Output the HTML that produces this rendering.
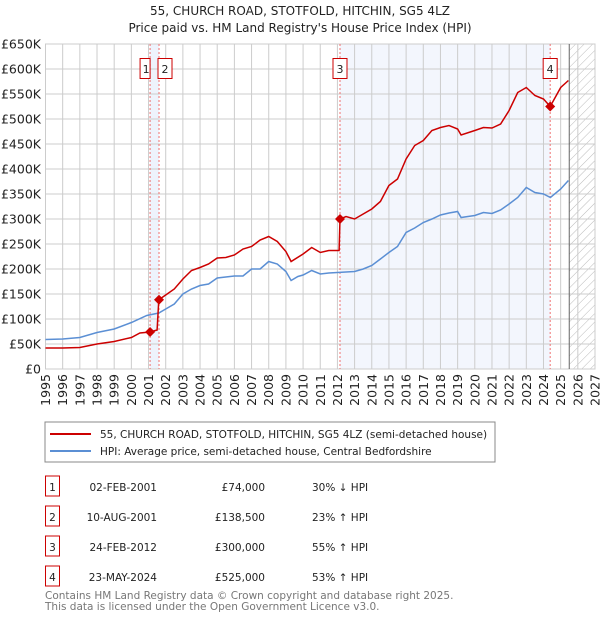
<!DOCTYPE html>
<html><head><meta charset="utf-8"><style>
body{margin:0;background:#fff;font-family:"DejaVu Sans","Liberation Sans",sans-serif;}
svg text{font-family:"DejaVu Sans","Liberation Sans",sans-serif;}
</style></head><body>
<svg id="c" width="600" height="620" viewBox="0 0 600 620" xmlns="http://www.w3.org/2000/svg">
<defs><pattern id="hatch" width="6" height="6" patternUnits="userSpaceOnUse" patternTransform="rotate(45)"><line x1="0" y1="0" x2="0" y2="6" stroke="#bbb" stroke-width="1"/></pattern></defs>
<text x="300" y="15" text-anchor="middle" font-size="12" fill="#222">55, CHURCH ROAD, STOTFOLD, HITCHIN, SG5 4LZ</text>
<text x="300" y="32" text-anchor="middle" font-size="12" fill="#222">Price paid vs. HM Land Registry's House Price Index (HPI)</text>
<g id="plot"></g>
<rect x="45" y="422" width="450" height="40" fill="#fff" stroke="#888"/>
<line x1="50" y1="434" x2="91" y2="434" stroke="#cc0000" stroke-width="2"/>
<text x="100" y="438" font-size="10.5" fill="#222">55, CHURCH ROAD, STOTFOLD, HITCHIN, SG5 4LZ (semi-detached house)</text>
<line x1="50" y1="451" x2="91" y2="451" stroke="#5b8fd4" stroke-width="2"/>
<text x="100" y="455" font-size="10.5" fill="#222">HPI: Average price, semi-detached house, Central Bedfordshire</text>
<g id="table" font-size="10.5" fill="#222"></g>
<text x="45" y="599" font-size="10.5" fill="#777">Contains HM Land Registry data © Crown copyright and database right 2025.</text>
<text x="45" y="610" font-size="10.5" fill="#777">This data is licensed under the Open Government Licence v3.0.</text>
</svg>
<script>
const hpiYears=[1995,1996,1997,1998,1999,2000,2000.9,2001.6,2002,2002.5,2003,2003.5,2004,2004.5,2005,2006,2006.5,2007,2007.5,2008,2008.5,2009,2009.3,2009.7,2010,2010.5,2011,2011.5,2012,2013,2013.5,2014,2014.5,2015,2015.5,2016,2016.5,2017,2017.5,2018,2018.5,2019,2019.2,2019.6,2020,2020.5,2021,2021.5,2022,2022.5,2023,2023.5,2024,2024.4,2025,2025.45];
const hpiValues=[59,60,63,73,80,93,107,112,120,130,150,160,167,170,182,186,186,200,200,215,210,195,177,185,188,197,190,192,193,195,200,207,220,233,245,273,282,293,300,308,312,315,303,305,307,313,311,318,330,343,363,353,350,343,360,377];
const propYears=[1995,1996,1997,1998,1999,2000,2000.5,2001.09,2001.5,2001.6,2002,2002.5,2003,2003.5,2004,2004.5,2005,2005.5,2006,2006.5,2007,2007.5,2008,2008.5,2009,2009.3,2010,2010.5,2011,2011.5,2012.1,2012.15,2012.5,2013,2013.5,2014,2014.5,2015,2015.5,2016,2016.5,2017,2017.5,2018,2018.5,2019,2019.2,2020,2020.5,2021,2021.5,2022,2022.5,2023,2023.5,2024,2024.39,2025,2025.45];
const propValues=[42,42,43,50,55,63,72,74,78,138.5,148,160,180,197,203,210,222,223,228,240,245,258,265,255,235,215,230,243,233,237,237,300,305,300,310,320,335,367,380,420,447,457,477,483,487,480,468,477,483,482,490,517,553,563,547,540,525,563,577];
const saleLabels=["1","2","3","4"];
const saleYears=[2001.09,2001.61,2012.15,2024.39];
const saleValues=[74,138.5,300,525];
const saleDates=["02-FEB-2001","10-AUG-2001","24-FEB-2012","23-MAY-2024"];
const salePrices=["£74,000","£138,500","£300,000","£525,000"];
const saleHpi=["30% ↓ HPI","23% ↑ HPI","55% ↑ HPI","53% ↑ HPI"];
const yTicks=[0,50,100,150,200,250,300,350,400,450,500,550,600,650];
const yTickLabels=["£0","£50K","£100K","£150K","£200K","£250K","£300K","£350K","£400K","£450K","£500K","£550K","£600K","£650K"];
const xTicks=[1995,1996,1997,1998,1999,2000,2001,2002,2003,2004,2005,2006,2007,2008,2009,2010,2011,2012,2013,2014,2015,2016,2017,2018,2019,2020,2021,2022,2023,2024,2025,2026,2027];
const dataEnd=2025.5;

const NS="http://www.w3.org/2000/svg";
const L=45.5,R=595,T=44,B=369;
const X=y=>L+(y-1995)*(R-L)/32;
const Y=v=>B-v*(B-T)/650;
const g=document.getElementById('plot');
function mk(tag,attrs,parent){const e=document.createElementNS(NS,tag);for(const k in attrs)e.setAttribute(k,attrs[k]);(parent||g).appendChild(e);return e;}
let e;
e=mk('rect',{x:X(saleYears[0]),y:T,width:X(saleYears[1])-X(saleYears[0]),height:B-T,fill:'#eef3fc'});


e=mk('rect',{x:X(saleYears[2]),y:T,width:X(saleYears[3])-X(saleYears[2]),height:B-T,fill:'#f3f6fd'});


e=mk('rect',{x:X(dataEnd),y:T,width:R-X(dataEnd),height:B-T,fill:'url(#hatch)'});


yTicks.forEach((v,i)=>{
 e=mk('line',{x1:L,x2:R,y1:Y(v),y2:Y(v),stroke:'#ccc','stroke-width':1});
 
 
 e=mk('text',{x:41,y:Y(v)+4.5,'text-anchor':'end','font-size':12.5,fill:'#222'});
 e.textContent=yTickLabels[i];
 
 
});
xTicks.forEach(yr=>{
 e=mk('line',{x1:X(yr),x2:X(yr),y1:T,y2:B,stroke:'#ccc','stroke-width':1});
 
 
 e=mk('text',{x:0,y:0,'text-anchor':'end','font-size':12.5,fill:'#222',transform:`translate(${X(yr)+4.5},${B+5}) rotate(-90)`});
 e.textContent=yr;
 
 
});
e=mk('rect',{x:L,y:T,width:R-L,height:B-T,fill:'none',stroke:'#ccc'});


e=mk('line',{x1:X(dataEnd),x2:X(dataEnd),y1:T,y2:B,stroke:'#666'});


saleYears.forEach((yr,i)=>{
 e=mk('line',{x1:X(yr),x2:X(yr),y1:T,y2:B,stroke:'#f07070','stroke-dasharray':'2,2'});
 
 
});
const pts=(xs,vs)=>xs.map((x,i)=>X(x).toFixed(1)+','+Y(vs[i]).toFixed(1)).join(' ');
e=mk('polyline',{points:pts(hpiYears,hpiValues),fill:'none',stroke:'#5b8fd4','stroke-width':1.5});


e=mk('polyline',{points:pts(propYears,propValues),fill:'none',stroke:'#cc0000','stroke-width':1.5});


saleYears.forEach((yr,i)=>{
 const cx=X(yr),cy=Y(saleValues[i]);
 e=mk('polygon',{points:`${cx},${cy-5} ${cx+5},${cy} ${cx},${cy+5} ${cx-5},${cy}`,fill:'#cc0000'});
 
 
 e=mk('rect',{x:(i===0?cx-10:(i===1?cx-1:cx-7)),y:58.5,width:(i===0?10:14),height:20,fill:'#fff',stroke:'#cc0000'});
 
 
 e=mk('text',{x:(i===0?cx-4:(i===1?cx+6:cx)),y:73,'text-anchor':'middle','font-size':11,fill:'#222'});
 e.textContent=saleLabels[i];
 
 
});
const tb=document.getElementById('table');
saleLabels.forEach((lab,i)=>{
 const y=488+i*30;
 e=mk('rect',{x:45.5,y:y-12,width:14,height:20,fill:'#fff',stroke:'#cc0000'},tb);
 
 
 e=mk('text',{x:52.5,y:y+3,'text-anchor':'middle'},tb);e.textContent=lab;
 
 
 e=mk('text',{x:157,y:y+3,'text-anchor':'end'},tb);e.textContent=saleDates[i];
 
 
 e=mk('text',{x:265,y:y+3,'text-anchor':'end'},tb);e.textContent=salePrices[i];
 
 
 e=mk('text',{x:312,y:y+3},tb);e.textContent=saleHpi[i];
 
 
});
</script>
</body></html>
